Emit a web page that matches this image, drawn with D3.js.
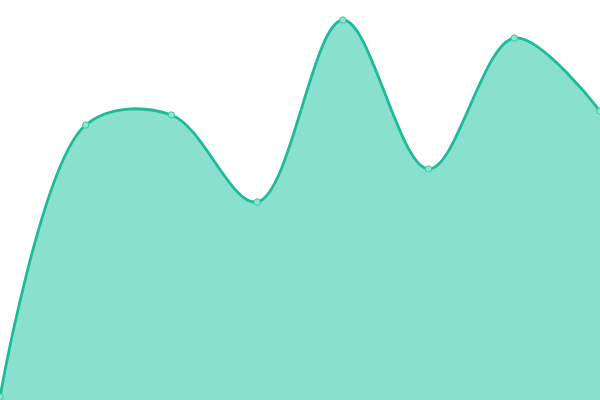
<!DOCTYPE html>
<html>
<head>
<meta charset="utf-8">
<script src="https://cdn.jsdelivr.net/npm/d3@7"></script>
<style>
  body { margin: 0; background: #fff; }
  svg { display: block; }
</style>
</head>
<body>
<div id="chart"></div>
<script>
// values (0 = bottom edge, 400 = top edge)
var steps = [0, 1, 2, 3, 4, 5, 6, 7];
var values = [3, 275, 285, 198, 380, 231, 362, 289];

var width = 600;
var height = 400;

var data = steps.map(function(s, i) { return { step: s, value: values[i] }; });

var x = d3.scaleLinear()
    .domain([0, steps.length - 1])
    .range([0, width]);

var y = d3.scaleLinear()
    .domain([0, 400])
    .range([height, 0]);

var svg = d3.select("#chart")
    .append("svg")
    .attr("width", width)
    .attr("height", height);

var area = d3.area()
    .x(function(d) { return x(d.step); })
    .y0(height)
    .y1(function(d) { return y(d.value); })
    .curve(d3.curveCatmullRom);

var line = d3.line()
    .x(function(d) { return x(d.step); })
    .y(function(d) { return y(d.value); })
    .curve(d3.curveCatmullRom);

svg.append("path")
    .datum(data)
    .attr("d", area)
    .style("fill", "#8ae0ce");

svg.append("path")
    .datum(data)
    .attr("d", line)
    .style("fill", "none")
    .style("stroke", "#1dba98")
    .style("stroke-width", 2.8);

svg.selectAll(".dot")
    .data(data)
    .enter().append("circle")
    .attr("class", "dot")
    .attr("cx", function(d) { return x(d.step); })
    .attr("cy", function(d) { return y(d.value); })
    .attr("r", 3.2)
    .style("fill", "#92e3d2")
    .style("stroke", "#3cc8a8")
    .style("stroke-width", 1);
</script>
</body>
</html>
